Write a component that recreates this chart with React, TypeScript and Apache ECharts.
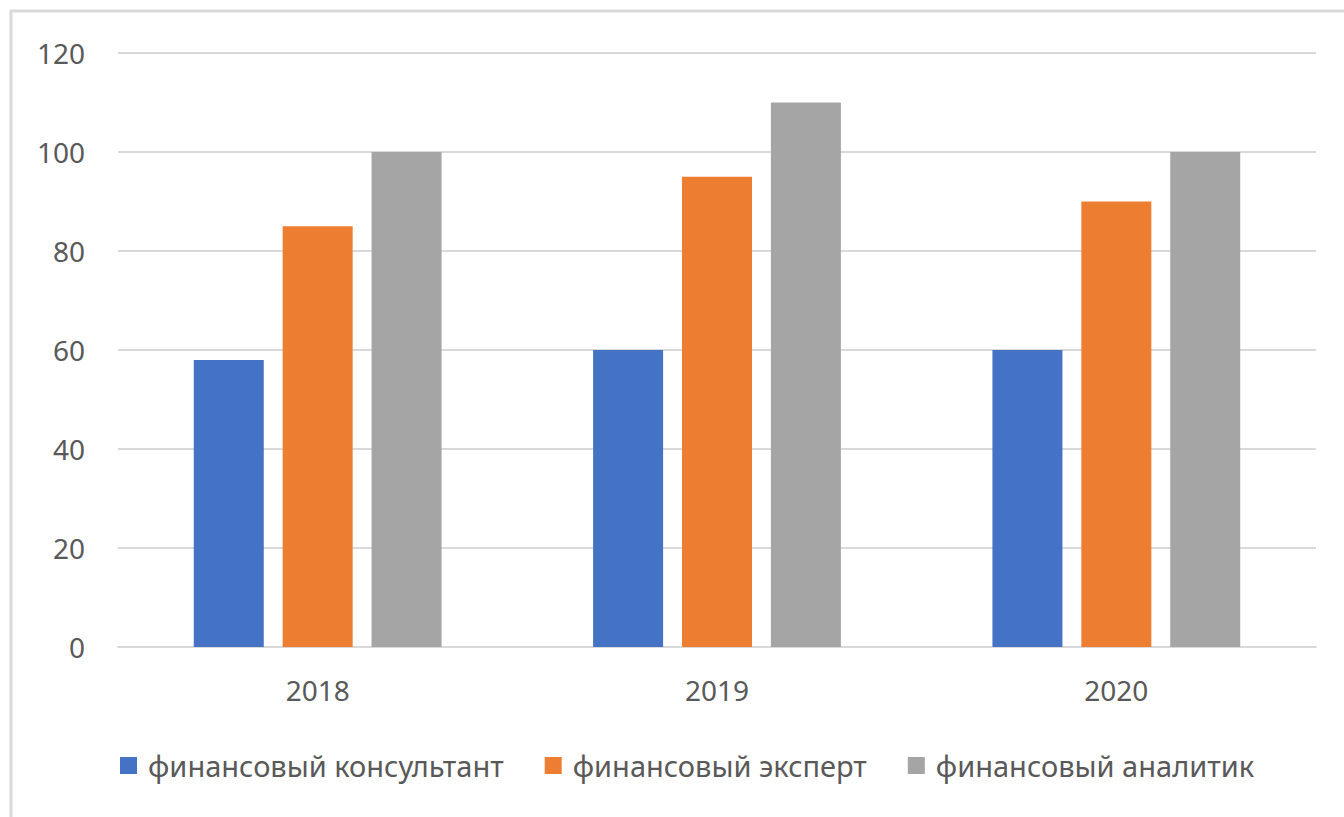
import React, { useEffect, useRef } from "react";
import * as echarts from "echarts";

const categories = ["2018", "2019", "2020"];
const seriesNames = ["финансовый консультант", "финансовый эксперт", "финансовый аналитик"];
const consultant = [58, 60, 60];
const expert = [85, 95, 90];
const analyst = [100, 110, 100];
const colors = ["#4472C4", "#ED7D31", "#A5A5A5"];

export default function App() {
  const ref = useRef<HTMLDivElement>(null);
  useEffect(() => {
    if (!ref.current) return;
    const chart = echarts.init(ref.current, null, { renderer: "svg" });
    const font = "'Noto Sans', 'Open Sans', sans-serif";
    const values = [consultant, expert, analyst];
    chart.setOption({
      animation: false,
      backgroundColor: "#ffffff",
      textStyle: { fontFamily: font },
      graphic: [
        {
          type: "rect",
          shape: { x: 11, y: 11, width: 1500, height: 1000 },
          style: { fill: "none", stroke: "#d9d9d9", lineWidth: 3 },
          silent: true,
        },
      ],
      grid: { left: 118, right: 28, top: 53, bottom: 170, containLabel: false },
      xAxis: {
        type: "category",
        data: categories,
        axisLine: { show: true, lineStyle: { color: "#d9d9d9", width: 2 } },
        axisTick: { show: false },
        axisLabel: { color: "#595959", fontSize: 28, margin: 29, fontFamily: font },
      },
      yAxis: {
        type: "value",
        min: 0,
        max: 120,
        interval: 20,
        axisLine: { show: false },
        axisTick: { show: false },
        splitLine: { lineStyle: { color: "#d9d9d9", width: 2 } },
        axisLabel: { color: "#595959", fontSize: 28, margin: 33, fontFamily: font },
      },
      legend: {
        top: 746,
        left: 115,
        itemWidth: 17,
        itemHeight: 17,
        itemGap: 41,
        icon: "rect",
        textStyle: { color: "#595959", fontSize: 29, fontFamily: font, padding: [0, 0, 0, 6] },
        data: seriesNames,
      },
      series: seriesNames.map((name, i) => ({
        name,
        type: "bar",
        data: values[i],
        barWidth: 70,
        barGap: "27%",
        itemStyle: { color: colors[i] },
      })),
    });
    return () => chart.dispose();
  }, []);
  return (
    <div
      ref={ref}
      style={{ position: "fixed", left: 0, top: 0, width: 1344, height: 817 }}
    />
  );
}
